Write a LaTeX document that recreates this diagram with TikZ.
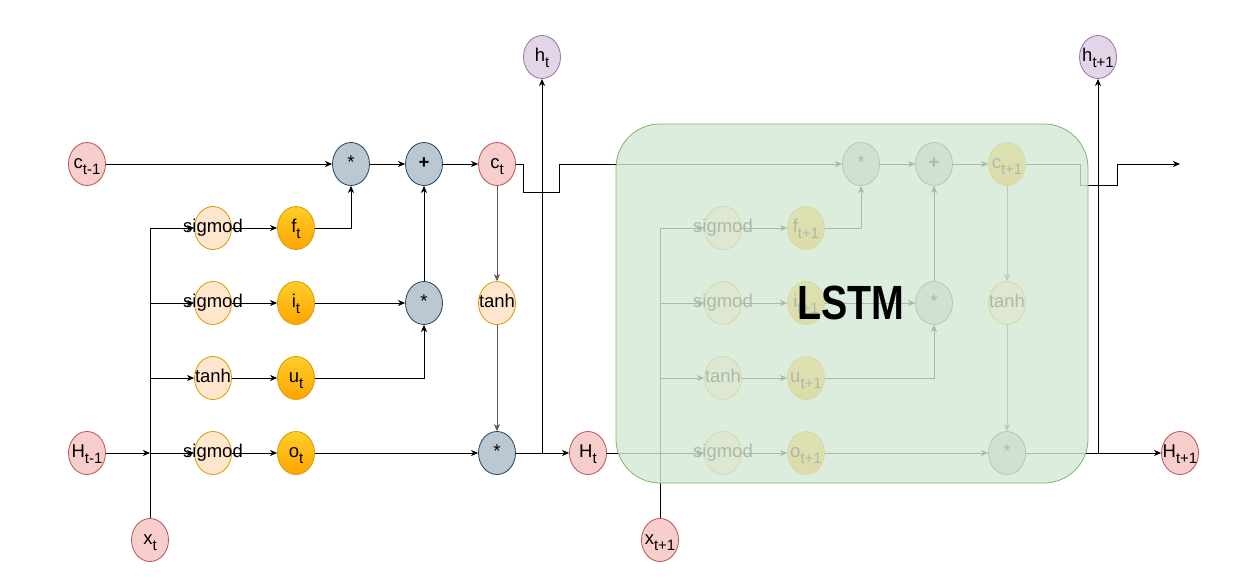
\documentclass[tikz,border=0pt]{standalone}
\usepackage{fontspec}
\setmainfont{Liberation Sans}
\usetikzlibrary{shapes.geometric,arrows.meta,positioning}
\definecolor{redfill}{HTML}{F8CECC}
\definecolor{redline}{HTML}{B85450}
\definecolor{orfill}{HTML}{FFE6CC}
\definecolor{orline}{HTML}{D79B00}
\definecolor{gtop}{HTML}{FFCD28}
\definecolor{gbot}{HTML}{FFA500}
\definecolor{opfill}{HTML}{BAC8D3}
\definecolor{opline}{HTML}{23445D}
\definecolor{pufill}{HTML}{E1D5E7}
\definecolor{puline}{HTML}{9673A6}
\definecolor{grfill}{HTML}{D5E8D4}
\definecolor{grline}{HTML}{82B366}
\newcommand{\idx}[2]{\makebox[0pt]{#1\raisebox{-6pt}{\fontsize{15}{15}\selectfont #2}}}
\newcommand{\lab}[1]{\makebox[0pt]{#1}}
\tikzset{
 unit/.style = {%
    shape=ellipse,
    minimum width=37pt, minimum height=43pt,
    inner sep=0pt, line width=0.8pt,
    text height=12pt, text depth=4pt,
    font=\fontsize{18.5}{18.5}\selectfont},
 cstate/.style = {unit, draw=redline, fill=redfill},
 actv/.style = {unit, draw=orline, fill=orfill},
 gate/.style = {unit, draw=orline, top color=gtop, bottom color=gbot},
 oper/.style = {unit, draw=opline, fill=opfill},
 hout/.style = {unit, draw=puline, fill=pufill},
 wire/.style = {draw=black, line width=1pt},
 link/.style = {wire, -{Stealth[length=7pt,width=6pt,inset=2pt]}},
 thin link/.style = {link, line width=0.7pt, draw=black!65},
 lstmbox/.style = {%
    shape=rectangle,
    rounded corners=44pt,
    draw=grline, line width=0.8pt,
    fill=grfill, fill opacity=0.8,
    minimum width=472pt, minimum height=359pt},
    }
\begin{document}
\begin{tikzpicture}[x=1pt,y=-1pt]
\useasboundingbox (0,0) rectangle (1257,578);
% two copies of the cell
\foreach \k/\dx/\s/\cs in {0/0/t/cstate, 1/510/t+1/gate} {
  \node[cstate] (x\k) at (150+\dx,540) {\idx{x}{\s}};
  \node[actv] (sf\k) at (213+\dx,228) {\lab{sigmod}};
  \node[actv] (si\k) at (213+\dx,303) {\lab{sigmod}};
  \node[actv] (tu\k) at (213+\dx,378) {\lab{tanh}};
  \node[actv] (so\k) at (213+\dx,453) {\lab{sigmod}};
  \node[gate] (f\k) at (296+\dx,228) {\idx{f}{\s}};
  \node[gate] (i\k) at (296+\dx,303) {\idx{i}{\s}};
  \node[gate] (u\k) at (296+\dx,378) {\idx{u}{\s}};
  \node[gate] (o\k) at (296+\dx,453) {\idx{o}{\s}};
  \node[oper] (mf\k) at (351+\dx,164) {\lab{*}};
  \node[oper] (ad\k) at (424+\dx,164) {\lab{\textbf{+}}};
  \node[oper] (mi\k) at (424+\dx,303) {\lab{*}};
  \node[\cs] (c\k) at (497+\dx,164) {\idx{c}{\s}};
  \node[actv] (tc\k) at (497+\dx,303) {\lab{tanh}};
  \node[oper] (mo\k) at (497+\dx,453) {\lab{*}};
  \coordinate (ji\k) at (x\k |- si\k);
  \coordinate (ju\k) at (x\k |- tu\k);
  \coordinate (jo\k) at (x\k |- so\k);
  \draw[link] (x\k) |- (sf\k);
  \draw[link] (ji\k) -- (si\k);
  \draw[link] (ju\k) -- (tu\k);
  \draw[link] (jo\k) -- (so\k);
  \draw[link] (sf\k) -- (f\k);
  \draw[link] (si\k) -- (i\k);
  \draw[link] (tu\k) -- (u\k);
  \draw[link] (so\k) -- (o\k);
  \draw[link] (f\k) -| (mf\k);
  \draw[link] (i\k) -- (mi\k);
  \draw[link] (u\k) -| (mi\k);
  \draw[link] (mi\k) -- (ad\k);
  \draw[link] (mf\k) -- (ad\k);
  \draw[link] (ad\k) -- (c\k);
  \draw[thin link] (c\k) -- (tc\k);
  \draw[thin link] (tc\k) -- (mo\k);
  \draw[link] (o\k) -- (mo\k);
}
% inputs and outputs
\node[cstate] (cm) at (87,164) {\idx{c}{t-1}};
\node[cstate] (Hm) at (87,453) {\idx{H}{t-1}};
\node[hout] (h0) at (542,57) {\idx{h}{t}};
\node[cstate] (H0) at (588,453) {\idx{H}{t}};
\node[hout] (h1) at (1098,57) {\idx{h}{t+1}};
\node[cstate] (H1) at (1180,453) {\idx{H}{t+1}};
\coordinate (cout) at (1180,164);
\coordinate (jh0) at (h0 |- mo0);
\coordinate (jh1) at (h1 |- mo1);
\draw[link] (cm) -- (mf0);
\draw[link] (Hm) -- (jo0);
\draw[link] (mo0) -- (H0);
\draw[link] (jh0) -- (h0);
\draw[wire] (H0) -- (jo1);
\draw[link] (c0.east) -- ++(8,0) -- ++(0,28) -- ++(36,0) -- ++(0,-28) -- (mf1);
\draw[link] (mo1) -- (H1);
\draw[link] (jh1) -- (h1);
\draw[link] (c1.east) -- ++(55,0) -- ++(0,21) -- ++(37,0) -- ++(0,-21) -- (cout);
% the second cell seen as a block
\node[lstmbox] (cell) at (852,303.5) {};
\node[font=\bfseries\fontsize{48}{48}\selectfont] (lstm) at (851,303) {\scalebox{0.82}[1]{LSTM}};
\end{tikzpicture}
\end{document}
